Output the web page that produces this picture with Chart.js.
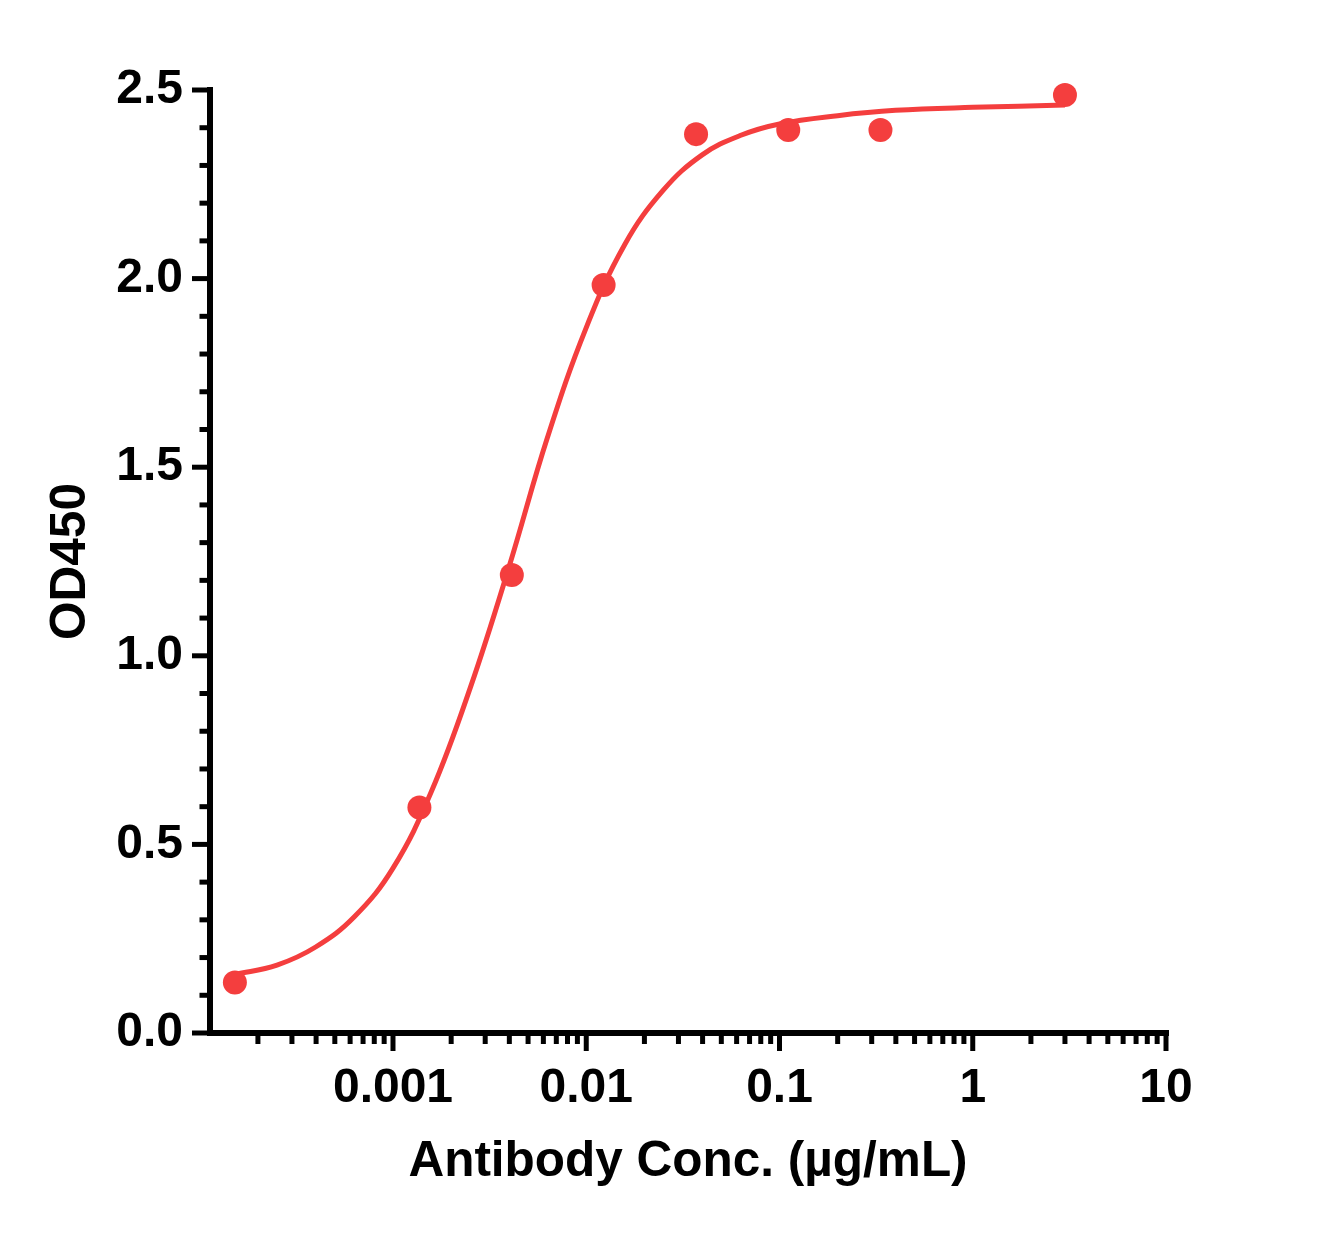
<!DOCTYPE html>
<html>
<head>
<meta charset="utf-8">
<script src="https://cdn.jsdelivr.net/npm/chart.js@4.4.1/dist/chart.umd.min.js"></script>
<style>
  html, body { margin: 0; padding: 0; background: #fff; }
  #wrap { width: 1320px; height: 1236px; }
</style>
</head>
<body>
<div id="wrap"><canvas id="chart-od" width="1320" height="1236"></canvas></div>
<script>
  // measured points (antibody conc. in ug/mL, OD450)
  const concValues = [0.000152, 0.00137, 0.00412, 0.0123, 0.037, 0.111, 0.333, 3];
  const odValues   = [0.134, 0.598, 1.214, 1.983, 2.383, 2.394, 2.394, 2.487];

  // fitted curve
  const curveConc = [0.000152, 0.000251, 0.000398, 0.000631, 0.001, 0.00158, 0.00251, 0.00398, 0.00631, 0.01,
                     0.0158, 0.0251, 0.0398, 0.0631, 0.1, 0.2, 0.398, 1, 3];
  const curveOd   = [0.155, 0.180, 0.228, 0.308, 0.437, 0.640, 0.915, 1.235, 1.580, 1.870,
                     2.090, 2.235, 2.328, 2.380, 2.410, 2.432, 2.446, 2.454, 2.460];

  // axes
  const xMajorTicks = [0.001, 0.01, 0.1, 1, 10];
  const xTickLabels = ['0.001', '0.01', '0.1', '1', '10'];
  const xMinorTicks = [0.0002, 0.0003, 0.0004, 0.0005, 0.0006, 0.0007, 0.0008, 0.0009,
                       0.002, 0.003, 0.004, 0.005, 0.006, 0.007, 0.008, 0.009,
                       0.02, 0.03, 0.04, 0.05, 0.06, 0.07, 0.08, 0.09,
                       0.2, 0.3, 0.4, 0.5, 0.6, 0.7, 0.8, 0.9,
                       2, 3, 4, 5, 6, 7, 8, 9];
  const yMajorTicks = [0, 0.5, 1.0, 1.5, 2.0, 2.5];
  const yTickLabels = ['0.0', '0.5', '1.0', '1.5', '2.0', '2.5'];
  const yMinorTicks = [0.1, 0.2, 0.3, 0.4, 0.6, 0.7, 0.8, 0.9, 1.1, 1.2, 1.3, 1.4,
                       1.6, 1.7, 1.8, 1.9, 2.1, 2.2, 2.3, 2.4];

  const RED = '#F43E3E';
  const FONT = "'Liberation Sans', Arial, sans-serif";

  function seg(ctx, x1, y1, x2, y2){ ctx.beginPath(); ctx.moveTo(x1, y1); ctx.lineTo(x2, y2); ctx.stroke(); }

  // Prism-style axis lines and tick marks, placed through the chart scales
  const axesPlugin = {
    id: 'prismAxes',
    beforeDatasetsDraw(chart){
      const ctx = chart.ctx, a = chart.chartArea;
      const xs = chart.scales.x, ys = chart.scales.y;
      ctx.save();
      ctx.strokeStyle = '#000';
      ctx.lineCap = 'butt';
      ctx.lineWidth = 5;
      yMinorTicks.forEach(v => { const y = ys.getPixelForValue(v); seg(ctx, a.left - 10.5, y, a.left, y); });
      yMajorTicks.forEach(v => { const y = ys.getPixelForValue(v); seg(ctx, a.left - 18, y, a.left, y); });
      xMinorTicks.forEach(v => { const x = xs.getPixelForValue(v); seg(ctx, x, a.bottom, x, a.bottom + 11); });
      xMajorTicks.forEach(v => { const x = xs.getPixelForValue(v); seg(ctx, x, a.bottom, x, a.bottom + 18); });
      ctx.lineWidth = 6;
      seg(ctx, a.left, a.top - 3, a.left, a.bottom + 3);
      seg(ctx, a.left - 3, a.bottom, a.right + 3, a.bottom);
      ctx.restore();
    }
  };

  const pts = concValues.map((x, i) => ({ x: x, y: odValues[i] }));
  const fit = curveConc.map((x, i) => ({ x: x, y: curveOd[i] }));

  new Chart(document.getElementById('chart-od'), {
    type: 'scatter',
    data: {
      datasets: [
        { label: 'Fit', data: fit, showLine: true, borderColor: RED, borderWidth: 5,
          pointRadius: 0, tension: 0.4, clip: false, order: 2 },
        { label: 'OD450', data: pts, backgroundColor: RED, borderWidth: 0,
          pointRadius: 12, pointHoverRadius: 12, clip: false, order: 1 }
      ]
    },
    options: {
      responsive: false,
      animation: false,
      devicePixelRatio: 1,
      layout: { padding: { left: 0, top: 90, right: 154, bottom: 0 } },
      plugins: { legend: { display: false }, tooltip: { enabled: false } },
      scales: {
        x: {
          type: 'logarithmic',
          min: 1.13e-4,
          max: 10,
          afterBuildTicks(scale){ scale.ticks = xMajorTicks.map(v => ({ value: v })); },
          afterFit(scale){ scale.height = 203; },
          grid: { display: false, drawTicks: false },
          border: { display: false },
          ticks: {
            autoSkip: false, maxRotation: 0, padding: 27, color: '#000',
            font: { family: FONT, size: 48, weight: 'bold' },
            callback: (v, i) => xTickLabels[i]
          },
          title: {
            display: true, text: 'Antibody Conc. (µg/mL)', color: '#000',
            font: { family: FONT, size: 49.5, weight: 'bold' },
            padding: { top: 0, bottom: 44 }
          }
        },
        y: {
          type: 'linear',
          min: 0,
          max: 2.5,
          afterBuildTicks(scale){ scale.ticks = yMajorTicks.map(v => ({ value: v })); },
          afterFit(scale){ scale.width = 210; },
          grid: { display: false, drawTicks: false },
          border: { display: false },
          ticks: {
            autoSkip: false, padding: 27, color: '#000',
            font: { family: FONT, size: 48, weight: 'bold' },
            callback: (v, i) => yTickLabels[i]
          },
          title: {
            display: true, text: 'OD450', color: '#000',
            font: { family: FONT, size: 49.5, weight: 'bold' },
            padding: { top: 42, bottom: 0 }
          }
        }
      }
    },
    plugins: [axesPlugin]
  });
</script>
</body>
</html>
